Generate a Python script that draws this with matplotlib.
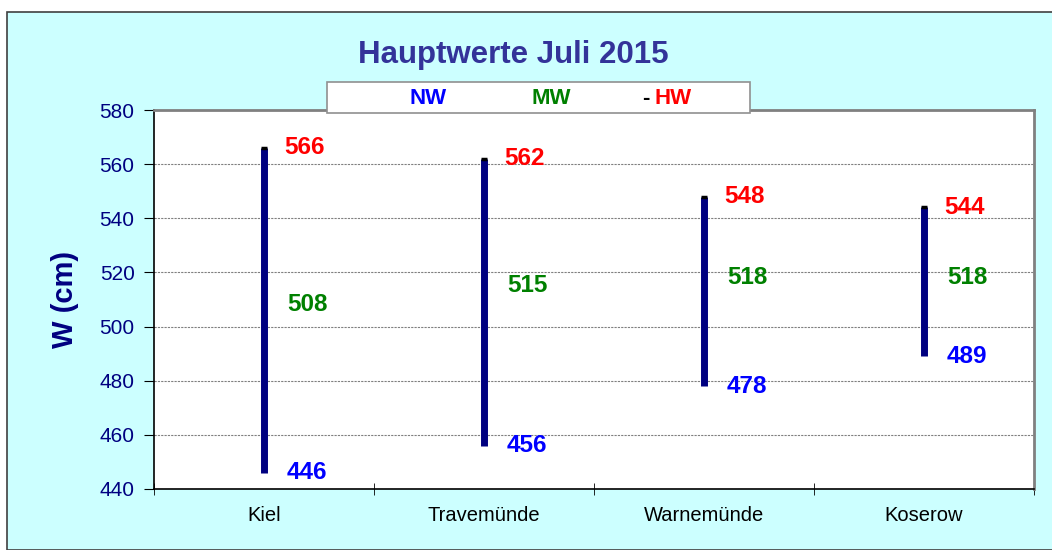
import matplotlib
matplotlib.use("Agg")
import matplotlib.pyplot as plt
from matplotlib.patches import Rectangle

plt.rcParams['font.family'] = ['Liberation Sans', 'DejaVu Sans']

# data
stations = ["Kiel", "Travemünde", "Warnemünde", "Koserow"]
nw = [446, 456, 478, 489]
mw = [508, 515, 518, 518]
hw = [566, 562, 548, 544]
yticks = [440, 460, 480, 500, 520, 540, 560, 580]

fig = plt.figure(figsize=(10.52, 5.5), dpi=100)
fig.patch.set_facecolor('white')

# outer chart frame (behind the axes)
frame = Rectangle((7 / 1052, 0), 1.0, 1 - 12 / 550, transform=fig.transFigure,
                  facecolor='#CCFFFF', edgecolor='#404040', linewidth=1.2, zorder=-1)
fig.patches.append(frame)

ax = fig.add_axes([154 / 1052, 1 - 489 / 550, (1034 - 154) / 1052, (489 - 110) / 550])
ax.set_facecolor('white')

x = list(range(len(stations)))
ax.vlines(x, nw, hw, color='#000080', linewidth=5, zorder=3)
ax.plot(x, hw, linestyle='none', marker='_', markersize=5, markeredgewidth=2.5,
        color='black', zorder=4)

for i in x:
    ax.annotate(str(hw[i]), (i, hw[i]), xytext=(14.5, 0), textcoords='offset points',
                va='center', ha='left', color='#FF0000', fontsize=17.5, fontweight='bold')
    ax.annotate(str(mw[i]), (i, mw[i]), xytext=(16.5, 0), textcoords='offset points',
                va='center', ha='left', color='#008000', fontsize=17.5, fontweight='bold')
    ax.annotate(str(nw[i]), (i, nw[i]), xytext=(16.5, 0), textcoords='offset points',
                va='center', ha='left', color='#0000FF', fontsize=17.5, fontweight='bold')

ax.set_xlim(-0.5, len(stations) - 0.5)
ax.set_ylim(440, 580)
ax.set_yticks(yticks)
ax.set_yticklabels([str(v) for v in yticks], color='#000080', fontsize=15)
ax.set_xticks(x)
ax.set_xticklabels(stations, fontsize=14.5)
ax.set_xticks([i + 0.5 for i in range(-1, len(stations))], minor=True)
ax.tick_params(axis='x', which='major', length=0, pad=12)
ax.tick_params(axis='x', which='minor', direction='inout', length=8, color='black')
ax.tick_params(axis='y', direction='out', length=7, pad=7)

ax.grid(True, axis='y', linestyle=(0, (2, 1)), color='#808080', linewidth=0.8)
ax.set_axisbelow(True)
for side in ['left', 'bottom']:
    ax.spines[side].set_color('black')
    ax.spines[side].set_linewidth(1.2)
for side in ['top', 'right']:
    ax.spines[side].set_color('#808080')
    ax.spines[side].set_linewidth(2)

ax.set_ylabel("W (cm)", color='#000080', fontsize=21, fontweight='bold', labelpad=15)

fig.text(513 / 1052, 1 - 55 / 550, "Hauptwerte Juli 2015", ha='center', va='center',
         color='#333399', fontsize=22.5, fontweight='bold')

# legend box
leg = Rectangle((327 / 1052, 1 - 113 / 550), (750 - 327) / 1052, 31 / 550,
                transform=fig.transFigure, facecolor='white', edgecolor='#909090',
                linewidth=1.2, zorder=5)
fig.patches.append(leg)
ly = 1 - 98 / 550
fig.text(428 / 1052, ly, "NW", ha='center', va='center', color='#0000FF',
         fontsize=16, fontweight='bold', zorder=6)
fig.text(551 / 1052, ly, "MW", ha='center', va='center', color='#008000',
         fontsize=16, fontweight='bold', zorder=6)
fig.text(646 / 1052, ly, "-", ha='center', va='center', color='black',
         fontsize=16, fontweight='bold', zorder=6)
fig.text(673 / 1052, ly, "HW", ha='center', va='center', color='#FF0000',
         fontsize=16, fontweight='bold', zorder=6)

fig.savefig("out.png", dpi=100)
